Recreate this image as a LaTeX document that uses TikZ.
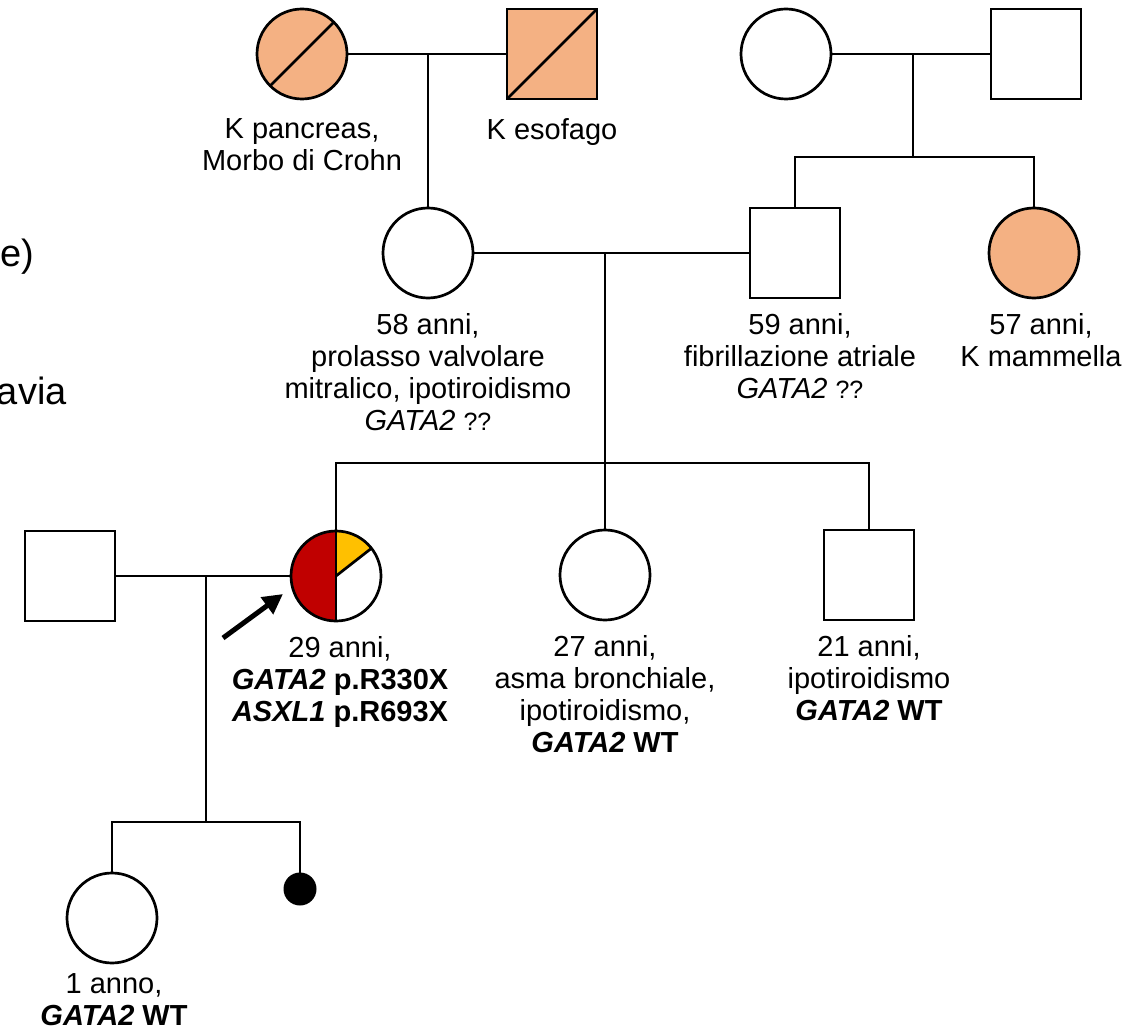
\documentclass[tikz,border=0pt]{standalone}
\usepackage{fontspec}
\setmainfont{Liberation Sans}
\usepackage{xcolor}
\usepackage{tikz}
\usetikzlibrary{positioning, arrows.meta}
\definecolor{affetto}{HTML}{F4B183}
\definecolor{rossoprob}{HTML}{C00000}
\definecolor{gialloprob}{HTML}{FFC000}

\begin{document}
\begin{tikzpicture}[x=1pt, y=-1pt, node distance=14pt, line width=2.7pt]
            \tikzstyle{female} = [circle, draw=black, minimum size=90pt, inner sep=0, outer sep=0]
            \tikzstyle{male} = [rectangle, draw=black, minimum size=90pt, inner sep=0, outer sep=0]
            \tikzstyle{info} = [align=center, inner sep=0, font=\fontsize{29}{32}\selectfont]
            \tikzstyle{cut} = [anchor=base east, inner sep=0, font=\fontsize{38}{40}\selectfont]
            \useasboundingbox (0,0) rectangle (1148,1032);

            \node [female, fill=affetto] (gl) at (302,54) {};
            \node [male, fill=affetto] (gr) at (552,54) {};
            \node [female] (rgm) at (786,54) {};
            \node [male] (rgp) at (1036,54) {};

            \node [female] (mo) at (428,253) {};
            \node [male] (fa) at (795,253) {};
            \node [female, fill=affetto] (au) at (1034,253) {};

            \node [male] (hu) at (70,576) {};
            \node [female, path picture={
                \fill [rossoprob] (path picture bounding box.north west) rectangle (path picture bounding box.south);
                \fill [gialloprob] (path picture bounding box.center) -- +(90:60pt) -- +(38:60pt) -- cycle;
              }] (pb) at (336,576) {};
            \node [female] (si) at (605,575) {};
            \node [male] (br) at (869,575) {};

            \node [female] (ch) at (112,918) {};
            \node [circle, fill=black, minimum size=33pt, inner sep=0, outer sep=0] (sb) at (300,889) {};

            \draw (gl.south west) -- (gl.north east);
            \draw (gr.south west) -- (gr.north east);
            \draw (pb.north) -- (pb.south);
            \draw (pb.center) -- (pb.38);

            \coordinate (s1) at (913,157);
            \coordinate (s2) at (605,463);
            \coordinate (s3) at (206,822);

            \draw (gl) -- (gr);
            \draw (mo.north) -- (mo.north |- gr.west);
            \draw (rgm) -- (rgp);
            \draw (s1) -- (s1 |- rgp.west);
            \draw (fa.north) |- (s1) -| (au.north);
            \draw (mo) -- (fa);
            \draw (s2) -- (s2 |- fa.west);
            \draw (pb.north) |- (s2) -| (br.north);
            \draw (s2) -- (si.north);
            \draw (hu) -- (pb);
            \draw (s3) -- (s3 |- hu.east);
            \draw (ch.north) |- (s3) -| (sb.north);

            \coordinate (ac) at (223,638);
            \coordinate (at) at (283,594);
            \draw [line width=5pt, -{Triangle[length=20pt, width=20pt]}] (ac) -- (at);

            \node [info, below=18pt of gl] (lgl) {K pancreas,\\Morbo di Crohn};
            \node [info, below=18pt of gr] (lgr) {K esofago};
            \node [info, below=of mo] (lmo) {58 anni,\\prolasso valvolare\\mitralico, ipotiroidismo\\\textit{GATA2} {\fontsize{25}{32}\selectfont ??}};
            \node [info, below=of fa, xshift=5pt] (lfa) {59 anni,\\fibrillazione atriale\\\textit{GATA2} {\fontsize{25}{32}\selectfont ??}};
            \node [info, below=of au, xshift=7pt] (lau) {57 anni,\\K mammella};
            \node [info, below=of pb, xshift=4pt] (lpb) {29 anni,\\\textbf{\textit{GATA2} p.R330X}\\\textbf{\textit{ASXL1} p.R693X}};
            \node [info, below=of si] (lsi) {27 anni,\\asma bronchiale,\\ipotiroidismo,\\\textbf{\textit{GATA2} WT}};
            \node [info, below=of br] (lbr) {21 anni,\\ipotiroidismo\\\textbf{\textit{GATA2} WT}};
            \node [info, below=9pt of ch, xshift=2pt] (lch) {1 anno,\\\textbf{\textit{GATA2} WT}};

            \node [cut] (t1) at (36,266) {e)};
            \node [cut] (t2) at (68,404) {avia};

        \end{tikzpicture}
\end{document}
